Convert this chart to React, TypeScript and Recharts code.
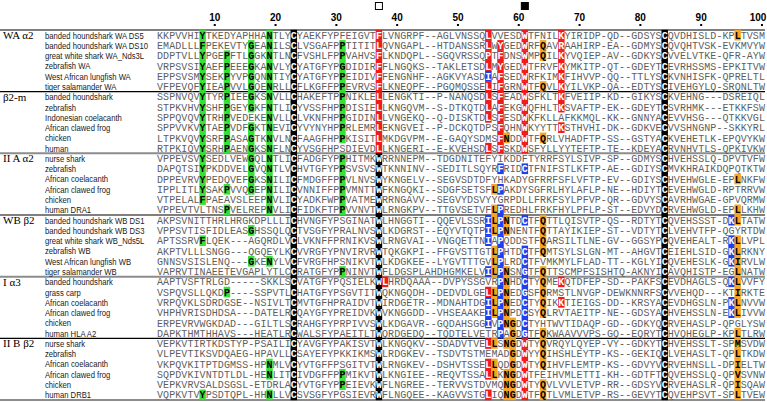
import React from 'react';
import { ScatterChart, Scatter, XAxis, YAxis, ReferenceLine } from 'recharts';

const groupNames = ['WA α2', 'β2-m', 'II A α2', 'WB β2', 'I α3', 'II B β2'];
const rowsPerGroup = 6;

const speciesNames = [
  'banded houndshark WA DS5',
  'banded houndshark WA DS10',
  'great white shark WA_Nds3L',
  'zebrafish WA',
  'West African lungfish WA',
  'tiger salamander WA',
  'banded houndshark',
  'zebrafish',
  'Indonesian coelacanth',
  'African clawed frog',
  'chicken',
  'human',
  'nurse shark',
  'zebrafish',
  'African coelacanth',
  'African clawed frog',
  'chicken',
  'human DRA1',
  'banded houndshark WB DS1',
  'banded houndshark WB DS3',
  'great white shark WB_Nds5L',
  'zebrafish WB',
  'West African lungfish WB',
  'tiger salamander WB',
  'banded houndshark',
  'grass carp',
  'African coelacanth',
  'African clawed frog',
  'chicken',
  'human HLA A2',
  'nurse shark',
  'zebrafish',
  'African coelacanth',
  'African clawed frog',
  'chicken',
  'human DRB1',
];

const sequences = [
  'KKPVVHIYTKEDYAPHHANTLYCYAEKFYPFEIGVTFLVNGRPF--AGLVNSSQLVVESDWTFNILKYIRIDP-QD--GDSYSCQVDHISLD-KPLTVSM',
  'EMADLLLFPEKEVTYGEANILSCLVSGAFPPTITITLQVNGAPL--HTDANSSRLWYGEDWRFQAVRAAHIRP-EA--GDMYSCQVQHTVSK-EVKMVYW',
  'DDPTVLLYPGEPFTLGGKNTLNCFVSHLFPPVAHVSFLKNDQPL--SGQVRSSQPTFDNSWMPQILKYVQIEP-AV--GDKYSCVVELVTKE-QFR-AYW',
  'VRPSVSIYAEFPEEEGKANVLYCYATGFYPGDIDIRFFLNGQKS--TAKLETSDLMYGEDWTFRVFKYMKITP-QT--GDEYTCEVRHSSMS-EPKITVW',
  'EPPSVSMYSEKPYVPGQNNTIYCYATGFYPPEIDIVFFENGNHF--AGKVYASDIAFSEDWRFKIMKFIHVVP-QQ--TTLYSCKVNHISFK-QPRELTL',
  'VFPEVQFYIEAPVVLGQENRLLCFLKGFFPPEVRVSFLKNEQPF--PGQMQSSELIFGRNWTFQVLKYILVKP-QA--EDTYSCIVEHGYLQ-SRQNLTW',
  'SSPNVQVYTYRPIEEGKSNVLLCHAKEFTPPNIKLELLENGKTI--P-NANQSDLSFEADWSFKLTKFVEIIP-KD--GIKYSCKVEHNG---DSREIQL',
  'STPKVHVYSHFPGEYGKFNTLICYVSSFHPPDISIELLKNGQVM--S-DTKQTDLAFEKGWQFHLTKSVAFTP-EK--GDEYTCSVRHMK---ETKKFSW',
  'SPPQVQVYTRHPVEDEKENVLLCLVKNFHPPGIDINLLVNGEKQ--Q-DISKTDLSFESDWKFKLLAFKKMQL-KK--GNNYACEVVHSG---QTKKVGL',
  'SPPVVKVYTAEPVDFGKTNEVICYVYNYHPPRLEMRLEKNGVEI--P-DCKQTDPSFQHNWKYYTTKSTHVHI-DK--GDKVECVVSHNGNP--SKKYRL',
  'LTPKVQVYSRFPASAGTKNVLNCFAAGFHPPKISITLMKDGVPM--E-GAQYSDMSFNDDWTFQRLVHADFTP-SS--GSTYACKVEHETLK-EPQVYKW',
  'RTPKIQVYSRHPAENGKSNFLNCYVSGFHPSDIEVDLLKNGERI--E-KVEHSDLSFSKDWSFYLLYYTEFTP-TE--KDEYACRVNHVTLS-QPKIVKW',
  'VPPEVSVYSEDLVEWGQLNTLICFADGFYPPHITMKWRRNNEPM--TDGDNITEFYIKDDFTYRRFSYLSIVP-SP--GDMYSCHVEHSSLQ-DPVTVFW',
  'DAPQTSIYPKDDVELGVQNTLVCHVTGFYPPSVSVSWTKNNINV--SEDITLSQYRFRIDCTFNIFSTLKFTP-AE--GDIYSCMVKHRAIKDQPQTKTW',
  'DPPEVRVYPEDQVEFGKSNILICFMDGFFPPVLNVSWYKNGELV--SEGVSDTDFYHKADYGFRRFSFLVFTP-EV--GDIYSCHVEHWGLE-EPLNKFW',
  'IPPLITLYSAKPVVQGEPNILICVNNIFFPPVMNTTWFKNGQKI--SDGFSETSFLPAKDYSGFRLHYLAFLP-NE--HDIYTCEVEHWGLD-RPTRRVW',
  'VTPELALFPAEAVSLEEPNVLICYADKFWPPVATMEWRRNGAVV--SEGVYDSVYYGRPDLLFRKFSYLPFVP-QR--GDVYSCAVRHWGAE-GPVQRMW',
  'VPPEVTVLTNSPVELREPNVLICFIDKFTPPVVNVTWLRNGKPV--TTGVSETVFLPREDHLFRKFHYLPFLP-ST--EDVYDCRVEHWGLD-EPLLKHW',
  'AKPSVNITTHRLHRGKDPLLLICHVNGFYPSGINATWLHNGGTI--QQEVLSSRILPNTDCTFQTTLQISVTP-QS--RDTYTCQVEHSSST-DKLTATW',
  'VPPSVTISFIDLEASGHSSQLQCTVSGFYPRALNVSWLKDGRST--EQYVTQTPILPNNENTFQTTAYIKIEP-ST--VDTYTCLVEHVTFP-QGYRTDW',
  'APTSSRVFLQEK---AGQRDLVCLVKNFFPRNIKVSWLRNGVAI--VNGQETTNIAPQDDSTFQARSILTLNE-GV--GGSYPCQVEHEALT-RKLLVPL',
  'AKPTVLLLSNGG---QGQEYLKCVVRGFYPNVIRVRWTQKGKPI--FFGVSTTGTLPHTDCTFQMTSYLSLGN-MT--AHGVTCEIEHLSID-GKLRKNY',
  'GNNSVSISLENQ---GKENYLVCFVRGFHPSNIKVTWLKDGKEE--LYGVTTTGVLPLRDCTFVMKMYLFLAD-TT--KGLYICQVEHESLK-GKIRVLW',
  'VAPRVTINAEETEVGAPLYTLCCRATGFYPPNINVTWFLDGSPLAHDHGMKELVILPNSNGTFQTTSCMPFSISHTQ-AKNYICAVQHISTP-EGLNATW',
  'AAPTVSFTRLGD-----SKKLSCVATGFYPQSIELKWLHRDQAAA--DVPYSSGVRPNHDCTYQMEKQTDFEP-SD--PAKFSCEVDHAGLS-QKLVVFY',
  'VSPQVSLLQKDP----SSPVTLCHATGFYPSGVTITWQKNGQDH--DEDVDLGELLPNEDGSFQRMSTLNVGP-DEWKNNRFSCVVEHQD---KTIRKTE',
  'VRPQVKLSDRDGSE--NSIVLTCMVTGFHPRAIDVTWIRDGETR--MDNAHTDGILPNEDCTYQIKKTIEIGS-DD--KRSYACEVDHGSLN-PKLNVVW',
  'VHPHVRISDHDSA---DATELRCQAYGFYPREIDVKWVKNGGDD--VHSEAAKEILPNPDCSYQLRVTAEITP-NE--GDSYACHVEHSSLN-EKLIVVW',
  'ERPEVRVWGKDAD---GILTLSCRAHGFYPRPIVVSWLKDGAVR--GQDAHSGGIVPNGDCTYHTWVTIDAQP-GD--GDKYQCRVEHASLP-QPGLYSW',
  'DAPKTHMTHHAVS---HEATLRCWALSFYPAEITLTWQRDGEDQ--TQDTELVETRPAGDGTFQKWAAVVVPS-GQ--EQRYTCHVQHEGLP-KPLTLRW',
  'VEPKVTIRTKDSTYP-PSAILICYAVGFYPAKISVTWLKNGQKV--SDADVTVELLSNGDWTYQVRQYLQYEP-VY--GDKYTCHVEHSSLT-SPMSVDW',
  'VLPEVTIKSVDQAEG-HPAVLLCSAYEFYPKKIKMSWLRDGKEV--TSDVTSTMEMADGDWYYQIHSHLEYTP-KS--GEKIQCLVEHASLT-QPLTKDW',
  'VKPQVKITPTDGMSS-HPNMLVCYVTGFFPSGITVTWLRNGKEV--DSHVTSSELLQDGDWTYQIHVFLEMTP-KS--GDVYVCRVEHNSLL-DPIELTW',
  'SQPDVKIVNTDTLDL-HENLITCIVDGFFPPMIKVTWLKNGIEE--REQVTSSALLKNGDWTFEIHVMLETTI-KH--GDTFTCQVEHSSLQ-QPVSVNW',
  'VEPKVRVSALDSGSL-ETDRLACYVTGFYPPEIEVKWFLNGREE--TERVVSTDVMQNGDWTYQVLVVLETVP-RR--GDSYVCRVEHASLR-QPISQAW',
  'VQPKVTVYPSDTQPL-HHNLLVCSVSGFYPGSIEVRWFLNGQEE--KAGVVSTGLIQNGDWTFQTLVMLETVP-RS--GEVYTCQVEHPSVT-SPLTVEW',
];

// column + colour code: g green, k black, r red, o orange, b blue
const highlightCols = [
  '8g 19g 23k 37r 55r 61r 67r 84k 96o',
  '8g 16g 19g 23k 31g 37r 55r 57r 61r 64o 67r 84k',
  '8g 12g 16g 19g 23k 31g 37r 55r 57r 61r 64o 67r 84k',
  '8g 12g 16g 19g 23k 31g 37r 55r 57r 61r 67r 84k',
  '8g 12g 16g 19g 23k 31g 37r 55b 57r 61r 67r 84k',
  '8g 12g 16g 19g 23k 31g 37r 55r 57r 61r 64o 67r 84k',
  '8g 12g 16g 19g 23k 31g 37r 55r 57r 61r 67r 84k',
  '8g 12g 16g 19g 23k 31g 37r 55r 57r 61r 67r 84k',
  '8g 12g 19g 23k 31g 37r 55r 57r 61r 84k',
  '8g 12g 16g 19g 23k 31g 37r 57r 61r 67r 84k',
  '8g 12g 16g 19g 23k 31g 37r 57r 58o 61r 64o 84k',
  '8g 12g 16g 19g 23k 37r 55r 57r 61r 84k',
  '8g 16g 19g 23k 31g 37k 84k',
  '8g 16g 19g 23k 31g 37k 57b 61b 84k',
  '8g 16g 19g 23k 31g 37k 84k 96o',
  '8g 12g 16g 19g 23k 31g 37k 56o 57b 84k',
  '8g 19g 23k 31g 37k 84k',
  '12g 19g 23k 31g 37k 56o 57b 84k 96o',
  '23k 37k 55b 56o 57b 58o 61b 64o 84k 95b 96o',
  '16g 23k 37k 55b 56o 57b 58o 64o 84k',
  '8g 23k 37k 55b 57b 64o 84k 95b 96o',
  '23k 37k 56o 57b 61b 64o 84k 95b 96o',
  '16g 19g 23k 37k 56o 57b 61b 84k 95b 96o',
  '23k 31g 37k 55b 56o 57b 58o 61b 64o 84k 96o',
  '23k 37k 38r 57b 58o 61b 64o 67r 84k 95b 96o',
  '12g 23k 37k 55r 56o 57b 58o 61b 64o 84k 96o',
  '23k 37k 55b 56o 57b 58o 61b 64o 67r 84k 95b 96o',
  '23k 37k 55b 56o 57b 58o 61b 64o 84k 95b 96o',
  '23k 37k 55b 57b 58o 59o 61b 84k',
  '23k 37k 57b 59o 61b 64o 84k 96o',
  '23k 37k 55r 56o 58o 59o 61r 64o 84k 96o',
  '23k 37k 59o 61r 64o 84k 96o',
  '19g 23k 37k 55r 56o 59o 61r 64o 84k 96o',
  '19g 23k 31g 37k 55r 56o 58o 59o 61r 84k 96o',
  '23k 31g 37k 58o 59o 61r 64o 84k 96o',
  '8g 19g 23k 37k 55r 58o 59o 61r 64o 84k 96o',
];

const positionTicks = [10, 20, 30, 40, 50, 60, 70, 80, 90, 100];
const openMarkerCol = 37;
const filledMarkerCol = 61;

const WIDTH = 767;
const HEIGHT = 402;
const LABEL_W = 157;
const COL_W = (WIDTH - LABEL_W - 2) / 100;
const ROW_H = 370 / 36;

const fills: Record<string, string> = { g: '#36e036', k: '#000000', r: '#f01c1c', o: '#f5a524', b: '#1f3ff0' };
const inks: Record<string, string> = { g: '#000', k: '#fff', r: '#fff', o: '#000', b: '#fff' };

const residues = sequences.flatMap((seq, i) => {
  const marks = new Map(highlightCols[i].split(' ').map((t) => [parseInt(t, 10), t.slice(-1)]));
  return seq.split('').map((aa, j) => ({ col: j + 1, row: i + 1, aa, mark: marks.get(j + 1) || '' }));
});

const separators = [
  { y: 0.5, color: '#000', w: 1.2 },
  { y: 6.5, color: '#000', w: 1.2 },
  { y: 12.5, color: '#8c8c8c', w: 2 },
  { y: 18.5, color: '#000', w: 1.2 },
  { y: 24.5, color: '#8c8c8c', w: 2 },
  { y: 30.5, color: '#000', w: 1.2 },
  { y: 36.5, color: '#8c8c8c', w: 2 },
];

function Residue(props: any) {
  const { cx, cy, payload } = props;
  if (cx == null || cy == null) return null;
  const m = payload.mark;
  return (
    <g>
      {m && (
        <rect x={cx - COL_W / 2 - 0.2} y={cy - ROW_H / 2 - 0.2} width={COL_W + 0.4} height={ROW_H + 0.4} fill={fills[m]} />
      )}
      <text
        x={cx}
        y={cy}
        dy="0.36em"
        textAnchor="middle"
        fontFamily="'Liberation Mono', 'Courier New', monospace"
        fontSize={10}
        fontWeight={m ? 700 : 400}
        fill={m ? inks[m] : '#5e5e5e'}
      >
        {payload.aa}
      </text>
    </g>
  );
}

function RowLabel(props: any) {
  const { y, payload } = props;
  const idx = payload.value - 1;
  const isFirst = idx % rowsPerGroup === 0;
  return (
    <g>
      {isFirst && (
        <text x={3} y={y} dy="0.36em" fontFamily="'Liberation Serif', 'Times New Roman', serif" fontSize={11} fill="#000">
          {groupNames[Math.floor(idx / rowsPerGroup)]}
        </text>
      )}
      <g transform={`translate(45, ${y}) scale(0.8, 1)`}>
        <text x={0} y={0} dy="0.36em" fontFamily="'Liberation Sans', Arial, sans-serif" fontSize={9.6} fill="#1a1a1a">
          {speciesNames[idx]}
        </text>
      </g>
    </g>
  );
}

function PositionTick(props: any) {
  const { x, payload } = props;
  const v = payload.value;
  if (v === openMarkerCol || v === filledMarkerCol) {
    return (
      <rect
        x={x - 3.5}
        y={2.5}
        width={7}
        height={7}
        fill={v === filledMarkerCol ? '#000' : '#fff'}
        stroke="#000"
        strokeWidth={1}
      />
    );
  }
  const tx = Math.min(x, WIDTH - 9);
  return (
    <g>
      <text x={tx} y={21} textAnchor="middle" fontFamily="'Liberation Sans', Arial, sans-serif" fontWeight={700} fontSize={10} fill="#000">
        {v}
      </text>
      <rect x={x - 1} y={24} width={2} height={2} fill="#000" />
    </g>
  );
}

export default function App() {
  const leftEdge = 0.5 - LABEL_W / COL_W;
  return (
    <div style={{ position: 'absolute', left: 0, top: 0, width: WIDTH, height: HEIGHT, background: '#fff' }}>
      <ScatterChart width={WIDTH} height={HEIGHT} margin={{ top: 0, right: 2, bottom: 2, left: 0 }}>
        <XAxis
          type="number"
          dataKey="col"
          orientation="top"
          domain={[0.5, 100.5]}
          ticks={[...positionTicks, openMarkerCol, filledMarkerCol].sort((a, b) => a - b)}
          interval={0}
          height={30}
          axisLine={false}
          tickLine={false}
          tick={(p: any) => <PositionTick {...p} />}
        />
        <YAxis
          type="number"
          dataKey="row"
          domain={[0.5, 36.5]}
          reversed
          ticks={speciesNames.map((_, i) => i + 1)}
          interval={0}
          width={LABEL_W}
          axisLine={false}
          tickLine={false}
          tick={(p: any) => <RowLabel {...p} />}
        />
        <Scatter data={residues} isAnimationActive={false} shape={(p: any) => <Residue {...p} />} />
        {separators.map((s) => (
          <ReferenceLine
            key={s.y}
            segment={[{ x: leftEdge, y: s.y }, { x: 100.5, y: s.y }]}
            stroke={s.color}
            strokeWidth={s.w}
            ifOverflow="visible"
          />
        ))}
      </ScatterChart>
    </div>
  );
}
